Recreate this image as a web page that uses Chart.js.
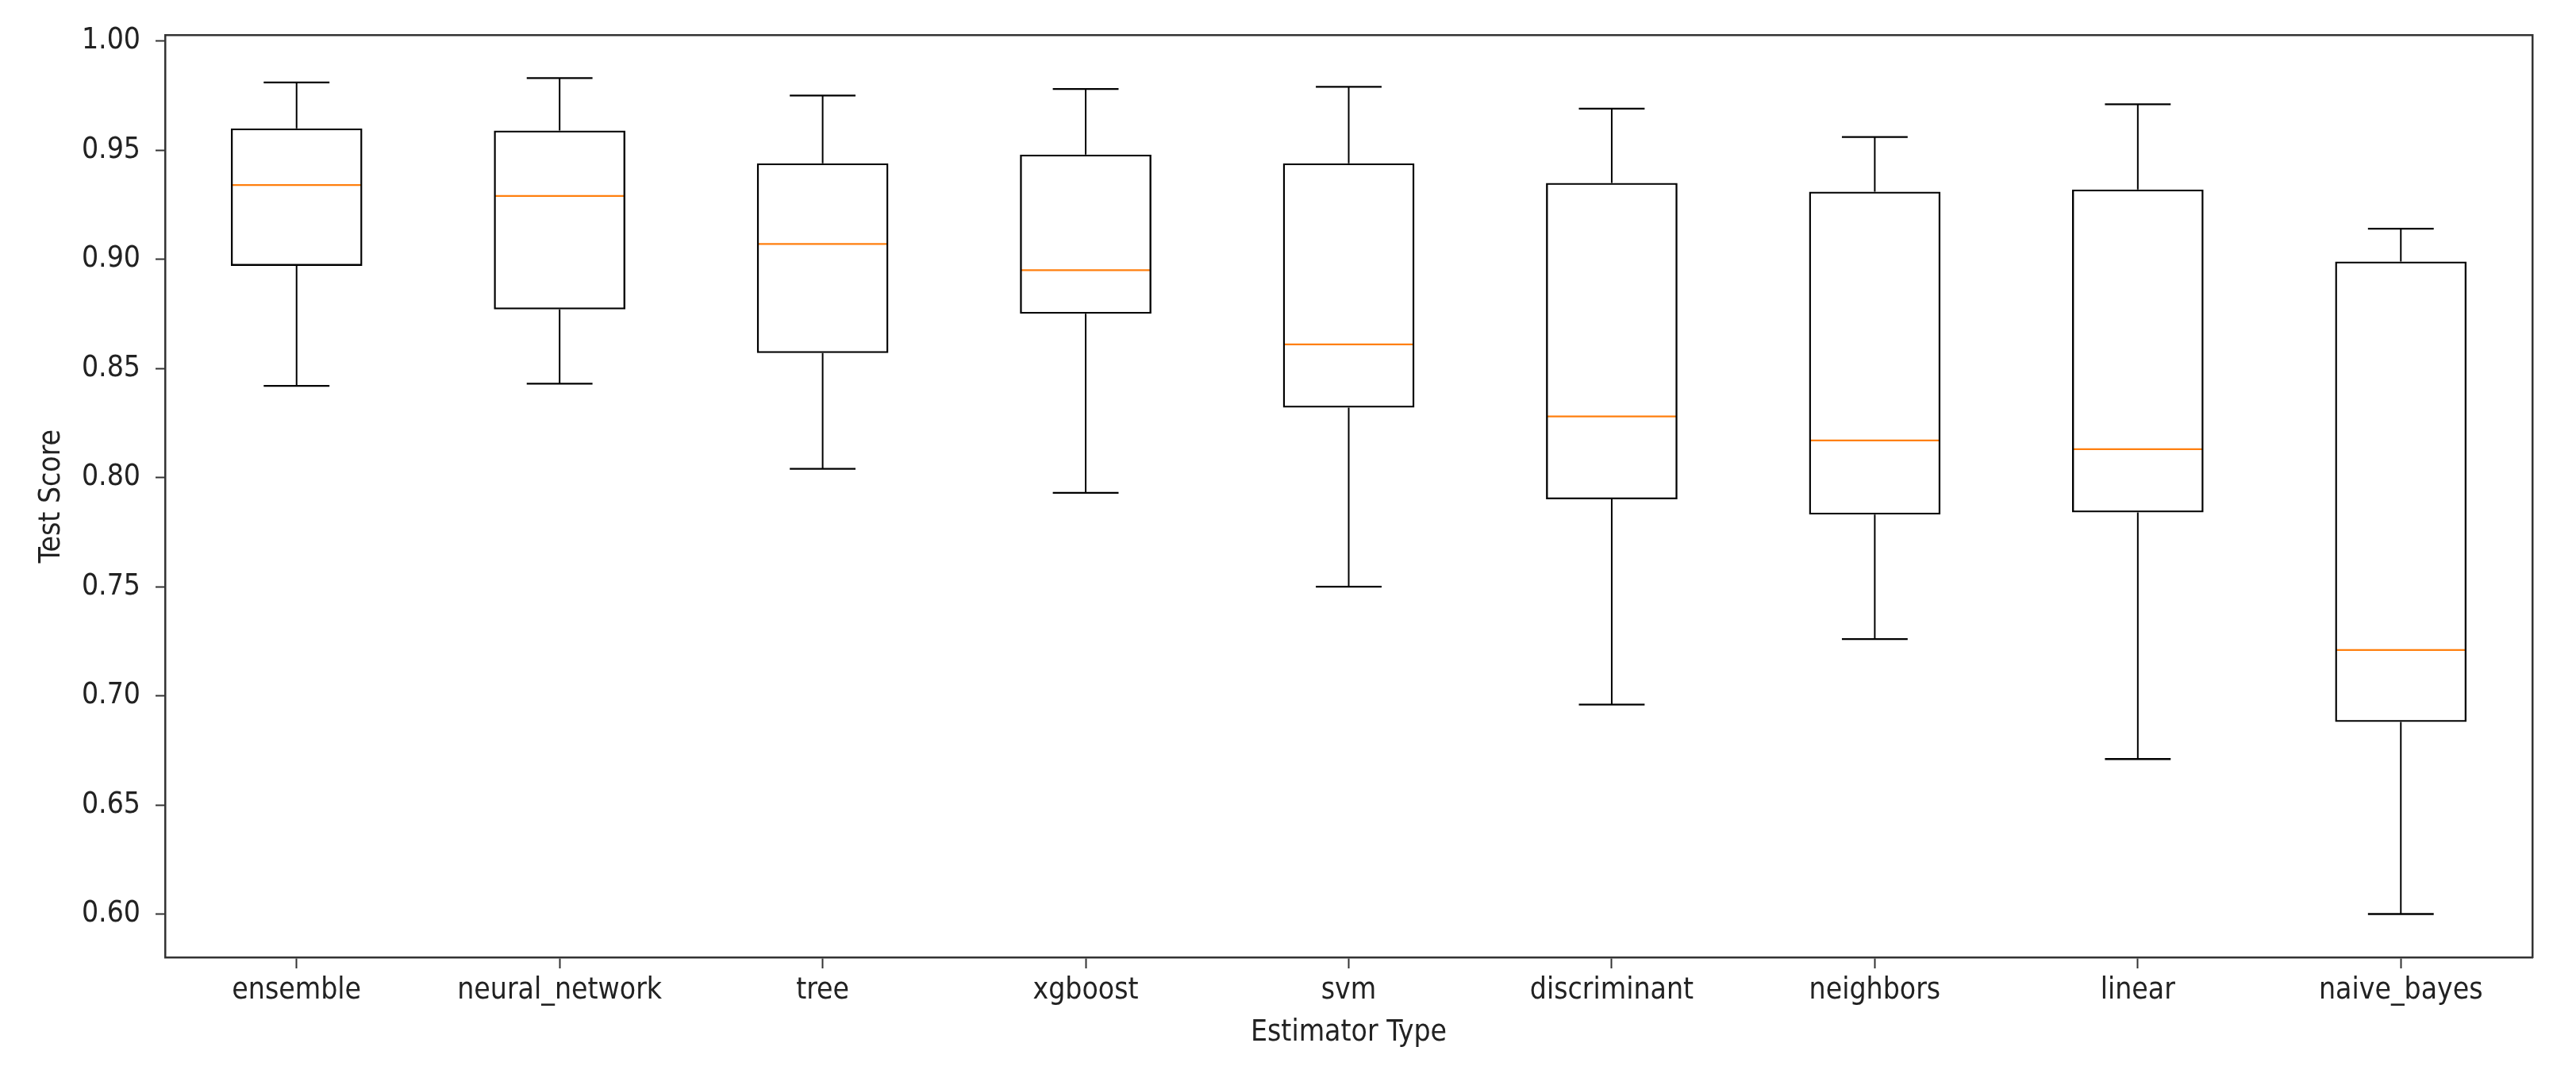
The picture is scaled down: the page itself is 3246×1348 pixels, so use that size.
<!DOCTYPE html>
<html>
<head>
<meta charset="utf-8">
<script src="https://cdn.jsdelivr.net/npm/chart.js@4/dist/chart.umd.min.js"></script>
<style>
  html, body { margin: 0; padding: 0; background: #fff; }
  #wrap { width: 3246px; height: 1348px; }
</style>
</head>
<body>
<div id="wrap"><canvas id="chart" width="3246" height="1348"></canvas></div>
<script>
// estimator types and their test score distributions
const categories = ['ensemble', 'neural_network', 'tree', 'xgboost', 'svm', 'discriminant', 'neighbors', 'linear', 'naive_bayes']
const whiskerLow = [0.842, 0.843, 0.804, 0.793, 0.750, 0.696, 0.726, 0.671, 0.600]
const q1 = [0.897, 0.877, 0.857, 0.875, 0.832, 0.790, 0.783, 0.784, 0.688]
const median = [0.934, 0.929, 0.907, 0.895, 0.861, 0.828, 0.817, 0.813, 0.721]
const q3 = [0.960, 0.959, 0.944, 0.948, 0.944, 0.935, 0.931, 0.932, 0.899]
const whiskerHigh = [0.981, 0.983, 0.975, 0.978, 0.979, 0.969, 0.956, 0.971, 0.914]
const yTicks = [0.60, 0.65, 0.70, 0.75, 0.80, 0.85, 0.90, 0.95, 1.00]

const FONT = "'DejaVu Sans Condensed', 'DejaVu Sans', sans-serif"
const FONT_SIZE = 37
const TEXT = '#222'
const SPINE = '#333'

// width of one category slot, so caps and medians follow the axis
const slot = (ctx) => ctx.chart.scales.x.width / categories.length

const ctx = document.getElementById('chart').getContext('2d')

new Chart(ctx, {
  type: 'bar',
  data: {
    labels: categories,
    datasets: [
      {
        // lower whisker
        data: categories.map((_, i) => [whiskerLow[i], q1[i]]),
        backgroundColor: '#000',
        borderWidth: 0,
        grouped: false,
        maxBarThickness: 2
      },
      {
        // upper whisker
        data: categories.map((_, i) => [q3[i], whiskerHigh[i]]),
        backgroundColor: '#000',
        borderWidth: 0,
        grouped: false,
        maxBarThickness: 2
      },
      {
        // the box itself
        data: categories.map((_, i) => [q1[i], q3[i]]),
        backgroundColor: 'rgba(255,255,255,0)',
        borderColor: '#000',
        borderWidth: 2.4,
        borderSkipped: false,
        grouped: false,
        categoryPercentage: 1,
        barPercentage: 0.5
      },
      {
        type: 'line',
        data: whiskerLow,
        showLine: false,
        pointStyle: 'line',
        borderColor: '#000',
        borderWidth: 2.4,
        radius: (c) => slot(c) * 0.125
      },
      {
        type: 'line',
        data: whiskerHigh,
        showLine: false,
        pointStyle: 'line',
        borderColor: '#000',
        borderWidth: 2.4,
        radius: (c) => slot(c) * 0.125
      },
      {
        type: 'line',
        data: median,
        showLine: false,
        pointStyle: 'line',
        borderColor: '#ff7f0e',
        borderWidth: 2.4,
        radius: (c) => slot(c) * 0.25 - 1
      }
    ]
  },
  options: {
    responsive: false,
    devicePixelRatio: 1,
    animation: false,
    events: [],
    layout: {
      padding: { top: 44.5, right: 55, bottom: 0, left: 0 }
    },
    plugins: {
      legend: { display: false },
      tooltip: { enabled: false }
    },
    scales: {
      x: {
        type: 'category',
        offset: true,
        afterFit: (s) => { s.height = 142 },
        grid: {
          offset: false,
          drawOnChartArea: false,
          drawTicks: true,
          tickLength: 14,
          tickColor: SPINE,
          tickWidth: 2
        },
        border: { display: true, color: SPINE, width: 2.5 },
        ticks: {
          color: TEXT,
          padding: 6,
          maxRotation: 0,
          autoSkip: false,
          font: { family: FONT, size: FONT_SIZE }
        },
        title: {
          display: true,
          text: 'Estimator Type',
          color: TEXT,
          padding: { top: 0, bottom: 24 },
          font: { family: FONT, size: FONT_SIZE }
        }
      },
      y: {
        type: 'linear',
        min: 0.5802,
        max: 1.0026,
        afterFit: (s) => { s.width = 208 },
        afterBuildTicks: (s) => { s.ticks = yTicks.map(v => ({ value: v })) },
        grid: {
          drawOnChartArea: false,
          drawTicks: true,
          tickLength: 12,
          tickColor: SPINE,
          tickWidth: 2
        },
        border: { display: true, color: SPINE, width: 2.5 },
        ticks: {
          color: TEXT,
          padding: 19,
          font: { family: FONT, size: FONT_SIZE },
          callback: (v) => Number(v).toFixed(2)
        },
        title: {
          display: true,
          text: 'Test Score',
          color: TEXT,
          padding: { top: 43, bottom: 0 },
          font: { family: FONT, size: FONT_SIZE }
        }
      },
      // top and right frame lines
      x2: {
        type: 'category',
        position: 'top',
        afterFit: (s) => { s.height = 0 },
        grid: { drawOnChartArea: false, drawTicks: false },
        border: { display: true, color: SPINE, width: 2.5 },
        ticks: { display: false }
      },
      y2: {
        type: 'linear',
        position: 'right',
        afterFit: (s) => { s.width = 0 },
        grid: { drawOnChartArea: false, drawTicks: false },
        border: { display: true, color: SPINE, width: 2.5 },
        ticks: { display: false }
      }
    }
  }
})
</script>
</body>
</html>
